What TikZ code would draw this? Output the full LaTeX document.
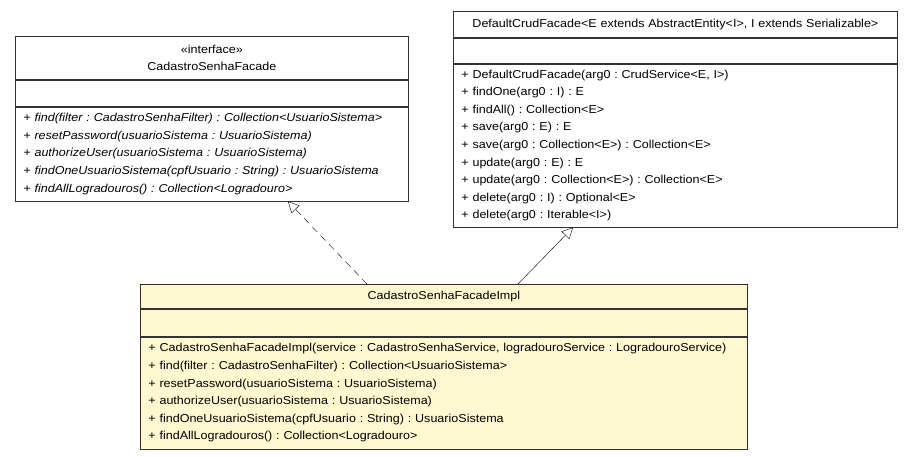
\documentclass[tikz,border=0pt]{standalone}
\usepackage{fontspec}
\setmainfont[FakeStretch=1.09]{Liberation Sans}
\frenchspacing
\hyphenpenalty=10000
\usetikzlibrary{arrows.meta,positioning}
\definecolor{implfill}{RGB}{255,248,208}

\begin{document}
\begin{tikzpicture}[x=1pt,y=-1pt]
\tikzset{part/.style = {shape=rectangle,draw=black!80,line width=0.8pt,inner ysep=0pt,inner xsep=8pt,font=\fontsize{11.5}{17.6}\selectfont}}
\tikzset{head/.style = {part,align=center,anchor=north west}}
\tikzset{ops/.style = {part,align=left}}
\tikzset{realize/.style = {dash pattern=on 7pt off 5pt,-{Triangle[open,length=11pt,width=11pt]}}}
\tikzset{extend/.style = {-{Triangle[open,length=11pt,width=11pt]}}}

\useasboundingbox (0,0) rectangle (912,457);

% interface
\node[head,text width=377pt,minimum height=43pt] (facHead) at (15,36) {«interface»\\CadastroSenhaFacade};
\node[part,text width=377pt,minimum height=26pt,below=0pt of facHead] (facAttr) {};
\node[ops,text width=377pt,minimum height=94pt,below=0pt of facAttr,font=\fontsize{11.5}{17.6}\selectfont\itshape] (facOps)
{+ find(filter : CadastroSenhaFilter) : Collection<UsuarioSistema>\\
+ resetPassword(usuarioSistema : UsuarioSistema)\\
+ authorizeUser(usuarioSistema : UsuarioSistema)\\
+ findOneUsuarioSistema(cpfUsuario : String) : UsuarioSistema\\
+ findAllLogradouros() : Collection<Logradouro>};

% superclass
\node[head,text width=428pt,minimum height=26pt] (crudHead) at (453,11) {DefaultCrudFacade<E extends AbstractEntity<I>, I extends Serializable>};
\node[part,text width=428pt,minimum height=25pt,below=0pt of crudHead] (crudAttr) {};
\node[ops,text width=428pt,minimum height=163pt,below=0pt of crudAttr] (crudOps)
{+ DefaultCrudFacade(arg0 : CrudService<E, I>)\\
+ findOne(arg0 : I) : E\\
+ findAll() : Collection<E>\\
+ save(arg0 : E) : E\\
+ save(arg0 : Collection<E>) : Collection<E>\\
+ update(arg0 : E) : E\\
+ update(arg0 : Collection<E>) : Collection<E>\\
+ delete(arg0 : I) : Optional<E>\\
+ delete(arg0 : Iterable<I>)};

% implementation
\node[head,fill=implfill,text width=591pt,minimum height=24pt] (implHead) at (140,284) {CadastroSenhaFacadeImpl};
\node[part,fill=implfill,text width=591pt,minimum height=27pt,below=0pt of implHead] (implAttr) {};
\node[ops,fill=implfill,text width=591pt,minimum height=112pt,below=0pt of implAttr] (implOps)
{+ CadastroSenhaFacadeImpl(service : CadastroSenhaService, logradouroService : LogradouroService)\\
+ find(filter : CadastroSenhaFilter) : Collection<UsuarioSistema>\\
+ resetPassword(usuarioSistema : UsuarioSistema)\\
+ authorizeUser(usuarioSistema : UsuarioSistema)\\
+ findOneUsuarioSistema(cpfUsuario : String) : UsuarioSistema\\
+ findAllLogradouros() : Collection<Logradouro>};

\coordinate (realFrom) at ([xshift=227pt]implHead.north west);
\coordinate (realTo) at ([xshift=273pt]facOps.south west);
\coordinate (extFrom) at ([xshift=378pt]implHead.north west);
\coordinate (extTo) at ([xshift=120pt]crudOps.south west);

\draw[realize] (realFrom) to (realTo);
\draw[extend] (extFrom) to (extTo);
\end{tikzpicture}
\end{document}
